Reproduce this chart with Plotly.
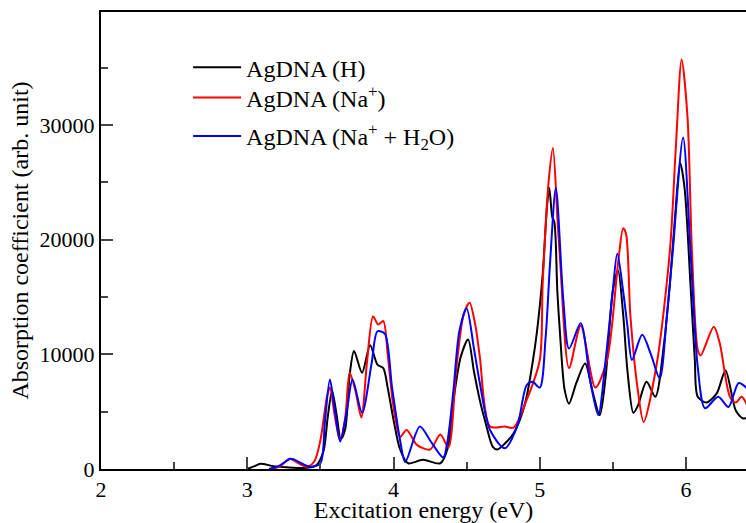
import plotly.graph_objects as go

# Excitation energy (eV) / absorption coefficient (arb. unit)
h_x = [3.0, 3.05, 3.09, 3.18, 3.27, 3.41, 3.47, 3.52, 3.55, 3.58, 3.61, 3.64, 3.67, 3.70, 3.73,
       3.785, 3.84, 3.89, 3.93, 3.96, 4.0, 4.045, 4.1, 4.2, 4.32, 4.37, 4.41, 4.46, 4.51, 4.55,
       4.59, 4.63, 4.68, 4.71, 4.76, 4.82, 4.87, 4.91, 4.95, 4.98, 5.02, 5.05, 5.065, 5.085, 5.1,
       5.12, 5.14, 5.17, 5.2, 5.25, 5.31, 5.36, 5.41, 5.45, 5.5, 5.535, 5.57, 5.6, 5.64, 5.67,
       5.73, 5.79, 5.85, 5.89, 5.925, 5.96, 5.99, 6.03, 6.06, 6.08, 6.14, 6.21, 6.27, 6.34, 6.39, 6.42]
h_y = [0, 250, 450, 250, 150, 100, 300, 1500, 4500, 6800, 4800, 2600, 3500, 8200, 10300,
       8400, 10800, 9100, 8800, 7100, 4300, 1700, 500, 800, 500, 1800, 6000, 9800, 11300, 8500,
       6000, 4000, 1900, 1700, 2200, 3100, 4500, 6300, 9200, 11900, 17000, 23000, 24500, 22000, 21500,
       15500, 11500, 6900, 5700, 7500, 9200, 6800, 4700, 8000, 15600, 17300, 13500, 8500, 4900, 5500,
       7600, 6300, 11000, 16200, 22000, 26700, 24500, 16200, 9500, 6300, 5800, 6600, 8600, 5100, 4400, 4500]

na_x = [3.15, 3.22, 3.29, 3.35, 3.41, 3.46, 3.5, 3.545, 3.565, 3.6, 3.635, 3.67, 3.70, 3.74, 3.78,
        3.82, 3.86, 3.895, 3.93, 3.96, 4.0, 4.045, 4.09, 4.16, 4.25, 4.32, 4.375, 4.43, 4.48, 4.52,
        4.56, 4.59, 4.66, 4.76, 4.82, 4.91, 5.0, 5.02, 5.06, 5.09, 5.12, 5.14, 5.2, 5.28, 5.38,
        5.46, 5.535, 5.57, 5.59, 5.62, 5.67, 5.71, 5.8, 5.89, 5.93, 5.97, 6.01, 6.04, 6.08, 6.10,
        6.19, 6.23, 6.30, 6.34, 6.38, 6.42]
na_y = [0, 200, 900, 500, 200, 700, 2500, 6300, 7100, 4500, 2500, 4500, 8400, 6800, 4500,
        9500, 13300, 12600, 12900, 10000, 5400, 2800, 3400, 2100, 1700, 3000, 1900, 8900, 13500, 14500,
        12500, 9800, 3700, 3700, 3600, 6000, 9500, 16200, 25000, 28000, 22000, 18000, 8800, 12500, 7100,
        9500, 17900, 21000, 20500, 13300, 6900, 4100, 9200, 19100, 28000, 35700, 30700, 19100, 10400, 9900,
        12400, 11000, 6300, 5800, 6300, 5500]

naw_x = [3.15, 3.22, 3.3, 3.37, 3.43, 3.5, 3.53, 3.565, 3.6, 3.635, 3.68, 3.72, 3.785, 3.85, 3.89,
         3.94, 3.99, 4.045, 4.08, 4.18, 4.26, 4.34, 4.37, 4.41, 4.45, 4.50, 4.55, 4.59, 4.66, 4.76,
         4.845, 4.91, 4.95, 5.0, 5.04, 5.07, 5.11, 5.16, 5.2, 5.28, 5.345, 5.40, 5.45, 5.495, 5.53,
         5.57, 5.60, 5.63, 5.70, 5.76, 5.82, 5.87, 5.91, 5.98, 6.03, 6.08, 6.13, 6.22, 6.29, 6.36, 6.42]
naw_y = [0, 300, 900, 500, 200, 500, 4000, 7800, 5000, 2400, 5000, 7800, 4900, 9200, 12000,
         11800, 7100, 2500, 600, 3700, 2300, 1000, 2500, 6900, 12000, 14000, 10500, 7500, 3400, 1800,
         3700, 7300, 7600, 7100, 11500, 17900, 24500, 14900, 10500, 12700, 7700, 4700, 9500, 15000, 18800,
         15500, 12400, 9500, 11700, 10000, 7900, 13500, 19100, 28900, 19100, 8900, 5300, 6300, 5400, 7500, 7000]

series = [
    ("AgDNA (H)", h_x, h_y, "#000000", "legend", 0.878),
    ("AgDNA (Na<sup>+</sup>)", na_x, na_y, "#ff0000", "legend2", 0.812),
    ("AgDNA (Na<sup>+</sup> + H<sub>2</sub>O)", naw_x, naw_y, "#0000ff", "legend3", 0.728),
]

FONT = "Liberation Serif"

fig = go.Figure()
legends = {}
for name, xs, ys, col, lg, ly in series:
    fig.add_trace(go.Scatter(x=xs, y=ys, mode="lines", name=name, legend=lg,
                             line=dict(color=col, width=2, shape="spline", smoothing=0.8)))
    legends[lg] = dict(x=0.135, y=ly, xanchor="left", yanchor="middle", itemwidth=48,
                       bgcolor="rgba(0,0,0,0)", font=dict(family=FONT, size=24, color="black"))

fig.update_layout(
    width=746, height=523,
    margin=dict(l=101, r=0, t=12, b=54),
    plot_bgcolor="white", paper_bgcolor="white",
    font=dict(family=FONT, size=22, color="black"),
    showlegend=True,
    **legends,
    xaxis=dict(range=[2, 6.41], dtick=1, tick0=2, ticks="inside", ticklen=12, tickwidth=2,
               showline=True, linewidth=2, linecolor="black", mirror=True,
               showgrid=False, zeroline=False,
               minor=dict(dtick=0.5, ticks="inside", ticklen=7, tickwidth=2, showgrid=False),
               title=dict(text="Excitation energy (eV)", standoff=0, font=dict(family=FONT, size=24)),
               tickfont=dict(family=FONT, size=22)),
    yaxis=dict(range=[0, 39850], dtick=10000, tickformat="d", ticks="inside", ticklen=12, tickwidth=2,
               showline=True, linewidth=2, linecolor="black", mirror=False,
               showgrid=False, zeroline=False,
               minor=dict(dtick=5000, ticks="inside", ticklen=7, tickwidth=2, showgrid=False),
               title=dict(text="Absorption coefficient (arb. unit)", standoff=4, font=dict(family=FONT, size=24)),
               tickfont=dict(family=FONT, size=22)),
)

fig.write_html("out.html")
